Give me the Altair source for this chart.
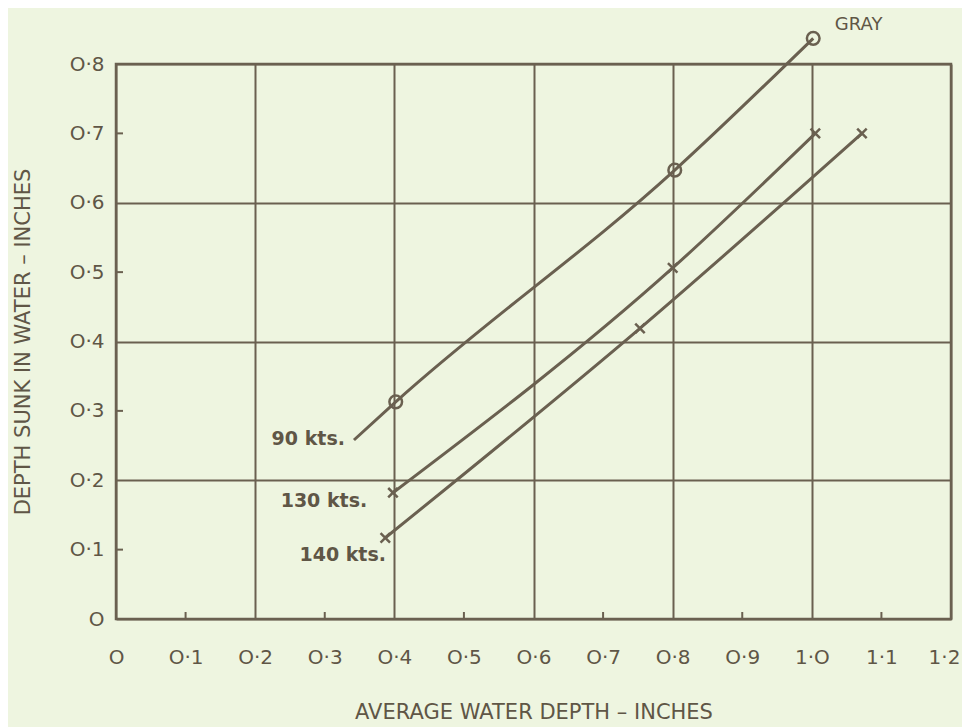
import altair as alt
import pandas as pd

# ---- data ----
# GRAY, 90 kts (line starts at an unmarked point, circles at the others)
x_90 = [0.342, 0.402, 0.803, 1.002]
y_90 = [0.258, 0.313, 0.647, 0.837]
marked_90 = [False, True, True, True]
# 130 kts
x_130 = [0.398, 0.800, 1.005]
y_130 = [0.182, 0.506, 0.700]
# 140 kts
x_140 = [0.387, 0.753, 1.072]
y_140 = [0.117, 0.419, 0.700]

series_names = ["90 kts.", "130 kts.", "140 kts."]
label_x = [0.329, 0.361, 0.388]
label_y = [0.259, 0.170, 0.092]
gray_label = ["GRAY"]
gray_label_x = [1.033]
gray_label_y = [0.856]

x_ticks = [0.0, 0.1, 0.2, 0.3, 0.4, 0.5, 0.6, 0.7, 0.8, 0.9, 1.0, 1.1, 1.2]
y_ticks = [0.0, 0.1, 0.2, 0.3, 0.4, 0.5, 0.6, 0.7, 0.8]
x_minor = [0.1, 0.3, 0.5, 0.7, 0.9, 1.1]
y_minor = [0.1, 0.3, 0.5, 0.7]

INK = "#6a6050"
TEXT = "#5f5646"
BG = "#eef5e0"
FONT = "DejaVu Sans"

lines_df = pd.concat([
    pd.DataFrame({"x": x_90, "y": y_90, "s": "90", "m": marked_90}),
    pd.DataFrame({"x": x_130, "y": y_130, "s": "130", "m": [True] * len(x_130)}),
    pd.DataFrame({"x": x_140, "y": y_140, "s": "140", "m": [True] * len(x_140)}),
], ignore_index=True)
circ_df = lines_df[(lines_df.s == "90") & (lines_df.m)]
cross_df = lines_df[(lines_df.s != "90")]
lab_df = pd.DataFrame({"x": label_x, "y": label_y, "t": series_names})
gray_df = pd.DataFrame({"x": gray_label_x, "y": gray_label_y, "t": gray_label})
xmin_df = pd.DataFrame({"x": x_minor})
ymin_df = pd.DataFrame({"y": y_minor})

label_expr = ("datum.value == 0 ? 'O' : "
              "replace(replace(format(datum.value, '.1f'), '0', 'O'), '.', '·')")
grid_op = {"condition": {"test": "round(datum.value * 10) % 2 == 0", "value": 1}, "value": 0}
last_shift = {"condition": {"test": "datum.value > 1.15", "value": -7}, "value": 0}

xscale = alt.Scale(domain=[0, 1.2], nice=False, zero=False)
yscale = alt.Scale(domain=[0, 0.8], nice=False, zero=False)

xaxis = alt.Axis(values=x_ticks, labelExpr=label_expr, grid=True, gridOpacity=grid_op,
                 gridColor=INK, gridWidth=2, ticks=False, domain=False,
                 labelFlush=False, labelOverlap=False, labelOffset=last_shift,
                 labelPadding=28, labelFont=FONT, labelFontSize=20, labelColor=TEXT,
                 title="AVERAGE WATER DEPTH – INCHES", titleFont=FONT, titleFontSize=21,
                 titleFontWeight="normal", titleColor=TEXT, titlePadding=34)
yaxis = alt.Axis(values=y_ticks, labelExpr=label_expr, grid=True, gridOpacity=grid_op,
                 gridColor=INK, gridWidth=2, ticks=False, domain=False,
                 labelFlush=False, labelOverlap=False,
                 labelPadding=12, labelFont=FONT, labelFontSize=20, labelColor=TEXT,
                 title="DEPTH SUNK IN WATER – INCHES", titleFont=FONT, titleFontSize=21,
                 titleFontWeight="normal", titleColor=TEXT, titlePadding=36)

X = alt.X("x:Q", scale=xscale, axis=xaxis)
Y = alt.Y("y:Q", scale=yscale, axis=yaxis)

lines = alt.Chart(lines_df).mark_line(color=INK, strokeWidth=3, interpolate="monotone", clip=False).encode(
    x=X, y=Y, detail="s:N",
)
circles = alt.Chart(circ_df).mark_point(shape="circle", size=160, filled=False, color=INK,
                                         strokeWidth=2.5, opacity=1).encode(x=X, y=Y)
crosses = alt.Chart(cross_df).mark_point(shape="M-1,-1L1,1M-1,1L1,-1", size=90, filled=False,
                                         color=INK, strokeWidth=2.5, opacity=1).encode(x=X, y=Y)
labels = alt.Chart(lab_df).mark_text(align="right", baseline="middle", font=FONT, fontSize=19,
                                     fontWeight="bold", color=TEXT).encode(x=X, y=Y, text="t:N")
gray = alt.Chart(gray_df).mark_text(align="left", baseline="middle", font=FONT, fontSize=18,
                                    fontWeight="normal", color=TEXT).encode(x=X, y=Y, text="t:N")
xminor = alt.Chart(xmin_df).mark_rule(color=INK, strokeWidth=2).encode(
    x=X, y=alt.value(555), y2=alt.value(548),
)
yminor = alt.Chart(ymin_df).mark_rule(color=INK, strokeWidth=2).encode(
    y=Y, x=alt.value(0), x2=alt.value(7),
)

chart = alt.layer(lines, xminor, yminor, circles, crosses, labels, gray).properties(
    width=835, height=555,
    autosize=alt.AutoSizeParams(type="none"),
    padding={"left": 108, "top": 56, "right": 11, "bottom": 110},
    background=BG,
).configure_view(stroke=INK, strokeWidth=2.5)

chart.save("out.html", embed_options={"renderer": "svg", "actions": False})
